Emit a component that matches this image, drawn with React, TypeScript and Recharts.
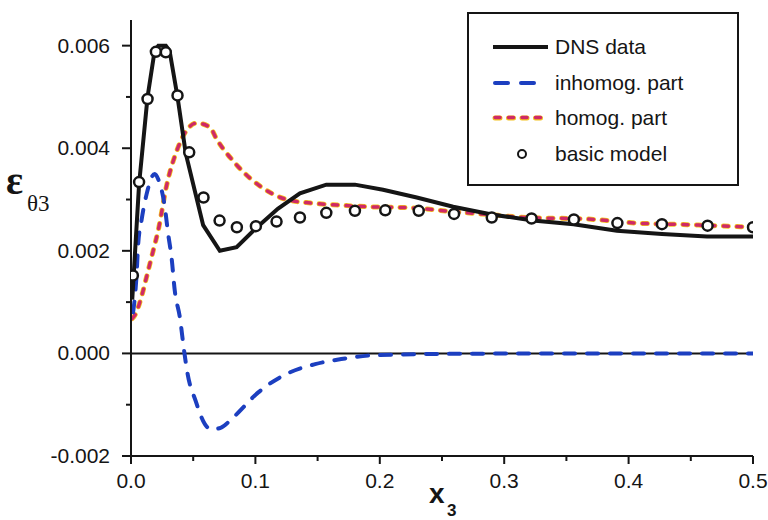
import { ComposedChart, Line, XAxis, YAxis, ReferenceLine } from 'recharts';

// values
const dnsX = [0.001, 0.0065, 0.0133, 0.019, 0.022, 0.028, 0.031, 0.0374, 0.044, 0.058, 0.0714, 0.0849, 0.1, 0.118, 0.1358, 0.157, 0.18, 0.2026, 0.2297, 0.259, 0.29, 0.323, 0.3557, 0.3906, 0.4268, 0.463, 0.5];
const dnsY = [0.00105, 0.0033, 0.005, 0.0059, 0.006, 0.006, 0.0059, 0.005, 0.0039, 0.0025, 0.002, 0.00207, 0.00243, 0.00282, 0.00312, 0.00329, 0.00329, 0.00319, 0.00304, 0.00286, 0.00271, 0.00259, 0.00252, 0.00239, 0.00233, 0.00228, 0.00228];

const inhX = [0.0017, 0.0044, 0.0057, 0.0085, 0.0125, 0.0191, 0.0218, 0.0272, 0.0298, 0.0326, 0.0352, 0.0393, 0.0427, 0.0455, 0.0519, 0.0594, 0.0648, 0.072, 0.0821, 0.1023, 0.125, 0.148, 0.169, 0.193, 0.25, 0.35, 0.5];
const inhY = [0.0008, 0.0015, 0.0021, 0.0026, 0.0031, 0.0035, 0.0034, 0.00285, 0.00234, 0.00187, 0.00122, 0.0007, 0.00005, -0.0004, -0.00092, -0.00138, -0.00148, -0.00145, -0.00125, -0.00076, -0.0004, -0.00021, -0.00011, -0.00004, -0.00001, 0, 0];

const homX = [0.001, 0.003, 0.0097, 0.0124, 0.0178, 0.0218, 0.0286, 0.0379, 0.0447, 0.0527, 0.0634, 0.0688, 0.084, 0.105, 0.1237, 0.145, 0.162, 0.1895, 0.224, 0.2565, 0.286, 0.318, 0.3665, 0.4067, 0.447, 0.49, 0.5];
const homY = [0.00068, 0.00074, 0.00122, 0.00148, 0.002, 0.00239, 0.00327, 0.00402, 0.00435, 0.00449, 0.00441, 0.00418, 0.0037, 0.00324, 0.00301, 0.00293, 0.0029, 0.00286, 0.00284, 0.00277, 0.00271, 0.00265, 0.00262, 0.00254, 0.00251, 0.00247, 0.00246];

const basicX = [0.0015, 0.0065, 0.0133, 0.02, 0.028, 0.0374, 0.0468, 0.0583, 0.0712, 0.0851, 0.1004, 0.117, 0.1358, 0.157, 0.18, 0.2044, 0.2313, 0.2597, 0.29, 0.322, 0.356, 0.391, 0.4268, 0.4635, 0.5];
const basicY = [0.00152, 0.00334, 0.00496, 0.00588, 0.00587, 0.00503, 0.00392, 0.00304, 0.00259, 0.00246, 0.00248, 0.00257, 0.00265, 0.00274, 0.00278, 0.00279, 0.00278, 0.00272, 0.00265, 0.00263, 0.00261, 0.00254, 0.00252, 0.00249, 0.00246];

const xTicks = [0, 0.05, 0.1, 0.15, 0.2, 0.25, 0.3, 0.35, 0.4, 0.45, 0.5];
const yTicks = [-0.002, -0.001, 0, 0.001, 0.002, 0.003, 0.004, 0.005, 0.006];

const zip = (xs: number[], ys: number[]) => xs.map((x, i) => ({ x, y: ys[i] }));

const FONT = '"Liberation Sans", Arial, Helvetica, sans-serif';
const SERIF = '"Liberation Serif", "Times New Roman", serif';
const INK = '#151515';
const BLUE = '#1c3fc0';
const RED = '#cf2a66';
const YELLOW = '#f3c21e';

function XTick(props: any) {
  const { x, y, payload } = props;
  const major = Math.round(payload.value * 100) % 10 === 0;
  return (
    <g>
      <line x1={x} x2={x} y1={y} y2={y + (major ? 8 : 5)} stroke={INK} strokeWidth={2} />
      {major && (
        <text x={x} y={y + 32} textAnchor="middle" fontFamily={FONT} fontSize={21} fill={INK}>
          {payload.value.toFixed(1)}
        </text>
      )}
    </g>
  );
}

function YTick(props: any) {
  const { x, y, payload } = props;
  const major = Math.abs(Math.round(payload.value * 1000)) % 2 === 0;
  return (
    <g>
      <line x1={x} x2={x - (major ? 9 : 5)} y1={y} y2={y} stroke={INK} strokeWidth={2} />
      {major && (
        <text x={x - 21} y={y + 7} textAnchor="end" fontFamily={FONT} fontSize={21} fill={INK}>
          {payload.value.toFixed(3)}
        </text>
      )}
    </g>
  );
}

function Overlay() {
  return (
    <svg width={768} height={520} style={{ position: 'absolute', left: 0, top: 0, pointerEvents: 'none' }}>
      {/* axis titles */}
      <text x={6} y={194} fontFamily={SERIF} fontSize={40} fontWeight="bold" fill={INK}>
        ε
      </text>
      <text x={27} y={211} fontFamily={SERIF} fontSize={23} fill={INK}>
        θ3
      </text>
      <text x={429} y={503} fontFamily={FONT} fontSize={28} fontWeight="bold" fill={INK}>
        x
      </text>
      <text x={447} y={516} fontFamily={FONT} fontSize={17} fontWeight="bold" fill={INK}>
        3
      </text>

      {/* legend */}
      <g transform="translate(467,12)" fontFamily={FONT} fontSize={21} fill={INK}>
        <rect x={1} y={1} width={270} height={172} fill="#fff" stroke={INK} strokeWidth={2} />
        <line x1={26} x2={81} y1={35} y2={35} stroke={INK} strokeWidth={4} />
        <text x={88} y={42}>DNS data</text>
        <line x1={28} x2={41} y1={71} y2={71} stroke={BLUE} strokeWidth={4} strokeLinecap="round" />
        <line x1={54} x2={67} y1={71} y2={71} stroke={BLUE} strokeWidth={4} strokeLinecap="round" />
        <text x={88} y={78}>inhomog.  part</text>
        <line x1={28} x2={82} y1={106} y2={106} stroke={YELLOW} strokeWidth={5} strokeDasharray="5 8.5" strokeLinecap="round" />
        <line x1={28} x2={82} y1={105.5} y2={105.5} stroke={RED} strokeWidth={3.5} strokeDasharray="5 8.5" strokeLinecap="round" />
        <text x={88} y={113}>homog.  part</text>
        <circle cx={55} cy={142} r={4} fill="#fff" stroke={INK} strokeWidth={2} />
        <text x={88} y={149}>basic model</text>
      </g>
    </svg>
  );
}

export default function App() {
  return (
    <div style={{ position: 'absolute', left: 0, top: 0, width: 768, height: 520, background: '#fff' }}>
      <ComposedChart width={768} height={520} margin={{ top: 20, right: 15, bottom: 24, left: 71 }}>
        <XAxis
          type="number"
          dataKey="x"
          domain={[0, 0.5]}
          ticks={xTicks}
          interval={0}
          height={40}
          tickSize={0}
          tickMargin={0}
          tickLine={false}
          tick={<XTick />}
          axisLine={{ stroke: INK, strokeWidth: 2 }}
          allowDataOverflow
        />
        <YAxis
          type="number"
          domain={[-0.002, 0.0065]}
          ticks={yTicks}
          interval={0}
          width={60}
          tickSize={0}
          tickMargin={0}
          tickLine={false}
          tick={<YTick />}
          axisLine={{ stroke: INK, strokeWidth: 2 }}
          allowDataOverflow
        />
        <ReferenceLine y={0} stroke={INK} strokeWidth={2} />
        <Line
          data={zip(homX, homY)}
          dataKey="y"
          type="monotone"
          stroke={YELLOW}
          strokeWidth={5}
          strokeDasharray="5 8.5"
          strokeLinecap="round"
          dot={false}
          activeDot={false}
          isAnimationActive={false}
        />
        <Line
          data={zip(homX, homY)}
          dataKey="y"
          type="monotone"
          stroke={RED}
          strokeWidth={3.5}
          strokeDasharray="5 8.5"
          strokeLinecap="round"
          dot={false}
          activeDot={false}
          isAnimationActive={false}
        />
        <Line
          data={zip(inhX, inhY)}
          dataKey="y"
          type="monotone"
          stroke={BLUE}
          strokeWidth={4}
          strokeDasharray="11 12"
          strokeLinecap="round"
          dot={false}
          activeDot={false}
          isAnimationActive={false}
        />
        <Line
          data={zip(dnsX, dnsY)}
          dataKey="y"
          type="linear"
          stroke={INK}
          strokeWidth={4}
          dot={false}
          activeDot={false}
          isAnimationActive={false}
        />
        <Line
          data={zip(basicX, basicY)}
          dataKey="y"
          type="linear"
          stroke="none"
          dot={{ r: 5, fill: '#fff', stroke: INK, strokeWidth: 2.5 }}
          activeDot={false}
          isAnimationActive={false}
        />
      </ComposedChart>
      <Overlay />
    </div>
  );
}
